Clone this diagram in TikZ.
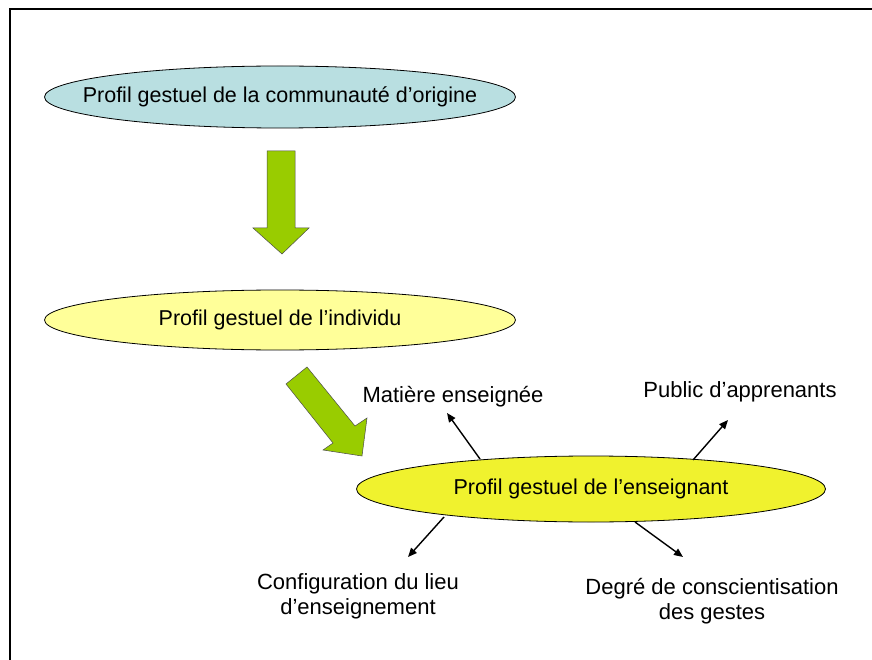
\documentclass[tikz,border=0pt]{standalone}
\usepackage{fontspec}
\setmainfont{Liberation Sans}
\usetikzlibrary{shapes.geometric,arrows.meta}
\definecolor{cyanfill}{HTML}{B9DFE1}
\definecolor{paleyellow}{HTML}{FFFF99}
\definecolor{brightyellow}{HTML}{F0F22E}
\definecolor{arrowgreen}{HTML}{99CC00}
\tikzset{
  oval/.style={ellipse, draw=black, line width=0.8pt, inner sep=0pt},
  ovaltext/.style={font=\fontsize{21.5}{25}\selectfont, inner sep=0pt},
  lbl/.style={font=\fontsize{22}{25}\selectfont, align=center, inner sep=0pt},
  bigarrow/.style={fill=arrowgreen, draw=black!70, line width=0.5pt, line join=miter},
  thin arrow/.style={-{Triangle[length=9pt,width=7.5pt]}, line width=1.4pt},
}
\begin{document}
\begin{tikzpicture}[x=1pt,y=-1pt]
\useasboundingbox (0,0) rectangle (872,660);
\fill[white] (0,0) rectangle (872,660);
\draw[line width=2pt] (10,660) -- (10,9) -- (872,9);

\node[oval, fill=cyanfill, minimum width=471pt, minimum height=62pt] (e1) at (280,97) {};
\node[ovaltext] (t1) at (e1.center) {Profil gestuel de la communauté d’origine};
\node[oval, fill=paleyellow, minimum width=471pt, minimum height=60pt] (e2) at (280,320) {};
\node[ovaltext] (t2) at (e2.center) {Profil gestuel de l’individu};
\node[oval, fill=brightyellow, minimum width=469pt, minimum height=66pt] (e3) at (591,489) {};
\node[ovaltext] (t3) at (e3.center) {Profil gestuel de l’enseignant};

% big green arrows
\draw[bigarrow] (267,151) -- (295,151) -- (295,228) -- (309,228) -- (282,254) -- (253,228) -- (267,228) -- cycle;
\draw[bigarrow] (286,384) -- (307,367) -- (355,426) -- (367,418) -- (362,456) -- (323,450) -- (333,443) -- cycle;

% labels
\node[lbl] (m) at (453,397) {Matière enseignée};
\node[lbl] (p) at (740,392) {Public d’apprenants};
\node[lbl] (c) at (358,596) {Configuration du lieu\\d’enseignement};
\node[lbl] (d) at (712,601) {Degré de conscientisation\\des gestes};

\coordinate (ms) at (480,459);
\coordinate (me) at (447,413);
\coordinate (ps) at (693,460);
\coordinate (pe) at (728,420);
\coordinate (cs) at (444,517);
\coordinate (ce) at (408,557);
\coordinate (ds) at (635,522);
\coordinate (de) at (683,557);

\draw[thin arrow] (ms) -- (me);
\draw[thin arrow] (ps) -- (pe);
\draw[thin arrow] (cs) -- (ce);
\draw[thin arrow] (ds) -- (de);
\end{tikzpicture}
\end{document}
